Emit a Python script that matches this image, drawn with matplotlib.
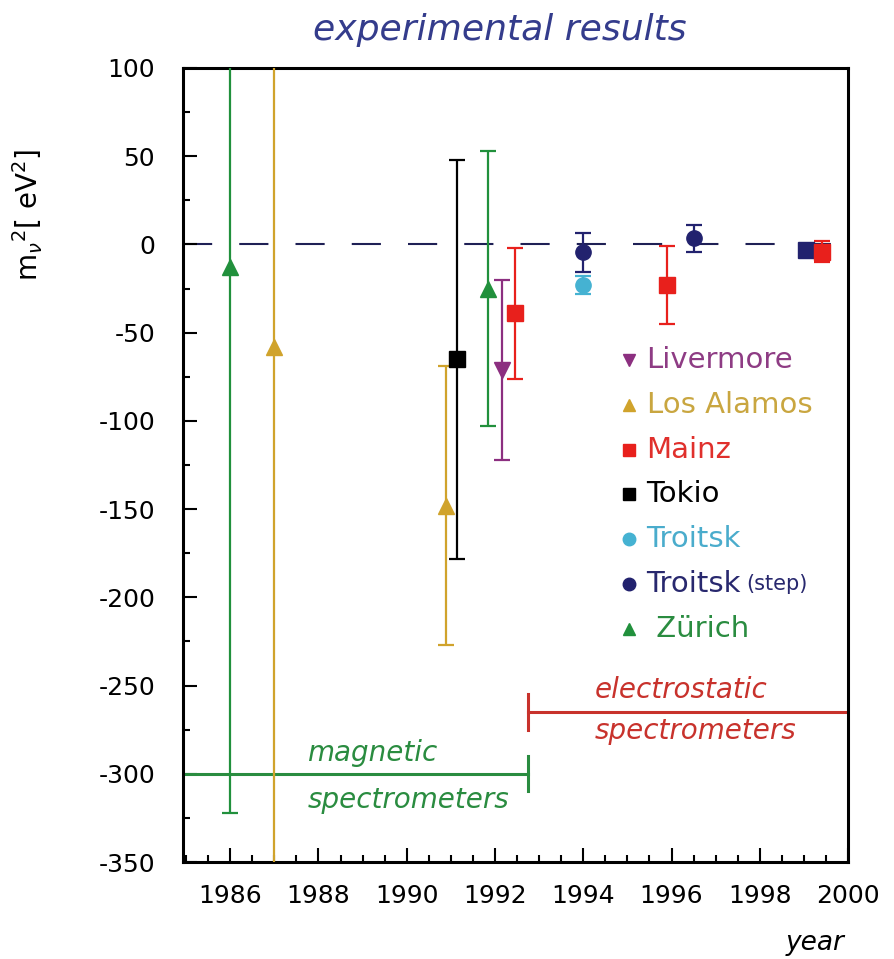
import matplotlib.pyplot as plt
from matplotlib.ticker import MultipleLocator

plt.rcParams['axes.unicode_minus'] = False

# neutrino mass squared measurements: year, m^2 [eV^2], error
zurich_year = [1986.0, 1991.85]
zurich_m2 = [-13, -25]
zurich_err = [309, 78]

los_alamos_year = [1987.0, 1990.9]
los_alamos_m2 = [-58, -148]
los_alamos_err = [420, 79]

tokio_year = [1991.15]
tokio_m2 = [-65]
tokio_err = [113]

livermore_year = [1992.15]
livermore_m2 = [-71]
livermore_err = [51]

troitsk_year = [1994.0]
troitsk_m2 = [-23]
troitsk_err = [5]

troitsk_step_year = [1994.0, 1996.5, 1999.05]
troitsk_step_m2 = [-4.5, 3.5, -3]
troitsk_step_err = [11, 7.5, 2]
troitsk_step_marker = ['o', 'o', 's']

mainz_year = [1992.45, 1995.9, 1999.4]
mainz_m2 = [-39, -23, -4]
mainz_err = [37, 22, 6]

# spectrometer eras
magnetic_span = [1984.5, 1992.75]
magnetic_level = -300
electrostatic_span = [1992.75, 2000.5]
electrostatic_level = -265

legend_labels = ['Livermore', 'Los Alamos', 'Mainz', 'Tokio', 'Troitsk', 'Troitsk', ' Zürich']
legend_colors = ['#8c2f80', '#d0a32c', '#e8201c', '#000000', '#45b2d2', '#22226e', '#21903c']
legend_text_colors = ['#8e3c84', '#c9a640', '#e0302c', '#000000', '#4aaccc', '#28286e', '#2a8c40']
legend_markers = ['v', '^', 's', 's', 'o', 'o', '^']

green = '#21903c'
gold = '#d0a32c'
red = '#e8201c'
purple = '#8c2f80'
cyan = '#45b2d2'
navy = '#22226e'

fig = plt.figure(figsize=(8.95, 9.59), dpi=100)
ax = fig.add_axes([0.2045, 0.1011, 0.743, 0.828])

ax.axhline(0, color='#1f2055', lw=1.5, dashes=(14, 13), zorder=1)

eb = dict(ms=11, capsize=6, capthick=1.6, elinewidth=1.6, zorder=3)

def draw(years, vals, errs, color, markers):
    for x, y, e, m in zip(years, vals, errs, markers):
        ax.errorbar(x, y, yerr=e, fmt=m, color=color, **eb)

draw(zurich_year, zurich_m2, zurich_err, green, ['^'] * 2)
draw(los_alamos_year, los_alamos_m2, los_alamos_err, gold, ['^'] * 2)
draw(tokio_year, tokio_m2, tokio_err, 'black', ['s'])
draw(livermore_year, livermore_m2, livermore_err, purple, ['v'])
draw(troitsk_year, troitsk_m2, troitsk_err, cyan, ['o'])
draw(troitsk_step_year, troitsk_step_m2, troitsk_step_err, navy, troitsk_step_marker)
draw(mainz_year, mainz_m2, mainz_err, red, ['s'] * 3)

# era markers
ax.plot(magnetic_span, [magnetic_level] * 2, color='#2a8c40', lw=2.2)
ax.plot([magnetic_span[1]] * 2, [magnetic_level - 10, magnetic_level + 10], color='#2a8c40', lw=2.2)
ax.plot(electrostatic_span, [electrostatic_level] * 2, color='#c8322c', lw=2.2)
ax.plot([electrostatic_span[0]] * 2, [electrostatic_level - 10, electrostatic_level + 10], color='#c8322c', lw=2.2)

ax.text(1987.75, -288, 'magnetic', color='#2a8c40', style='italic', fontsize=20, va='center')
ax.text(1987.75, -315, 'spectrometers', color='#2a8c40', style='italic', fontsize=20, va='center')
ax.text(1994.26, -252.5, 'electrostatic', color='#c8322c', style='italic', fontsize=20, va='center')
ax.text(1994.26, -276, 'spectrometers', color='#c8322c', style='italic', fontsize=20, va='center')

# legend drawn by hand
for i, (lab, c, tc, m) in enumerate(zip(legend_labels, legend_colors, legend_text_colors, legend_markers)):
    y = (862 - (360 + i * 44.8)) / 794
    ax.plot(0.67, y, marker=m, color=c, ms=9, transform=ax.transAxes, clip_on=False)
    t = ax.text(0.697, y, lab, color=tc, fontsize=21, va='center', transform=ax.transAxes)
    if i == 5:
        ax.annotate('(step)', xy=(1, 0.5), xycoords=t, xytext=(4, 0), textcoords='offset points',
                    color=tc, fontsize=15, va='center')

ax.set_xlim(1984.93, 2000)
ax.set_ylim(-350, 100)
ax.set_xticks(range(1986, 2001, 2))
ax.set_yticks(range(-350, 101, 50))
ax.xaxis.set_minor_locator(MultipleLocator(0.5))
ax.yaxis.set_minor_locator(MultipleLocator(25))
ax.tick_params(which='both', direction='in', top=False, right=False, width=1.5, labelsize=18)
ax.tick_params(which='major', length=10)
ax.tick_params(which='minor', length=5)
ax.tick_params(axis='x', pad=16)
ax.tick_params(axis='y', pad=20)
for s in ax.spines.values():
    s.set_linewidth(2.2)

ax.set_ylabel(r'm$_\nu$$^2$[ eV$^2$]', fontsize=20)
ax.yaxis.set_label_coords(-0.2075, 0.815)
ax.set_xlabel('year', style='italic', fontsize=19)
ax.xaxis.set_label_coords(0.95, -0.085)

fig.text(0.5587, 0.969, 'experimental results', color='#343c8c', style='italic',
         fontsize=26, ha='center', va='center')

fig.savefig('out.png', dpi=100)
